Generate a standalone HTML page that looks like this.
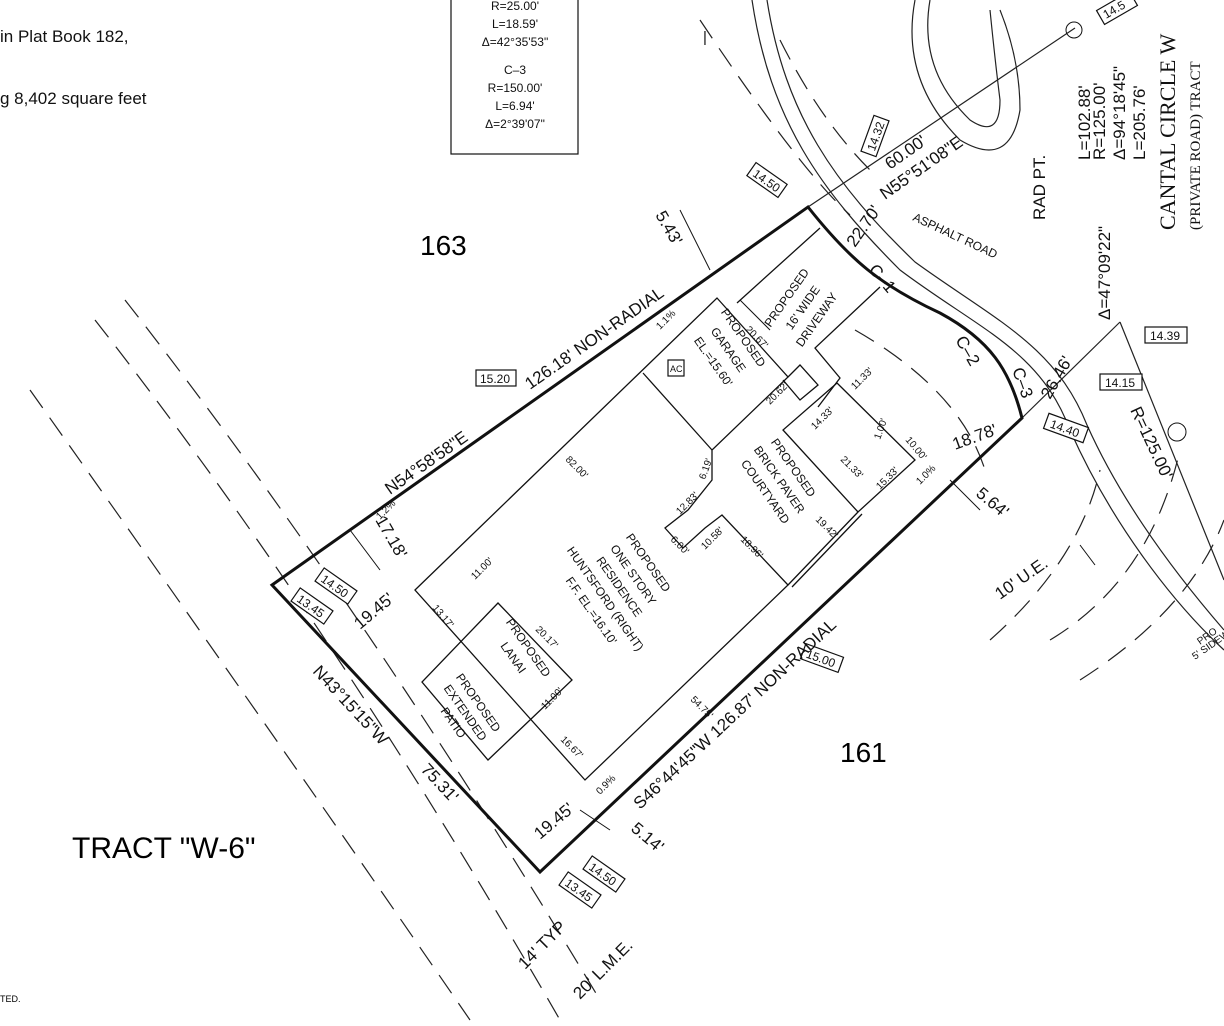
<!DOCTYPE html>
<html><head><meta charset="utf-8"><style>
html,body{margin:0;padding:0;background:#fff;}
svg{display:block;font-family:"Liberation Sans",sans-serif;}
.t{font-size:15px;fill:#111;}
.s{font-size:12px;fill:#111;}
.box{fill:#fff;stroke:#111;stroke-width:1.2;}
</style></head><body>
<svg width="1224" height="1026" viewBox="0 0 1224 1026" xmlns="http://www.w3.org/2000/svg">
<rect width="1224" height="1026" fill="#fff"/>
<text x="0" y="42" class="t" style="font-size:17px">in Plat Book 182,</text>
<text x="0" y="104" class="t" style="font-size:17px">g 8,402 square feet</text>
<text x="0" y="1002" style="font-size:9px">TED.</text>
<rect x="451" y="-2" width="127" height="156" fill="none" stroke="#111" stroke-width="1.2"/>
<g class="s" text-anchor="middle">
<text x="515" y="10">R=25.00'</text><text x="515" y="28">L=18.59'</text><text x="515" y="46">Δ=42°35'53"</text>
<text x="515" y="74">C–3</text><text x="515" y="92">R=150.00'</text><text x="515" y="110">L=6.94'</text><text x="515" y="128">Δ=2°39'07"</text>
</g>
<text x="703" y="42" class="t">|</text>
<g fill="none" stroke="#222" stroke-width="1.2" stroke-dasharray="22,12">
<path d="M95,320 Q330,620 560,1020"/>
<path d="M125,300 Q360,600 600,1000"/>
<path d="M30,390 Q250,700 470,1020"/>
<path d="M700,20 Q800,170 850,215"/>
<path d="M780,40 Q820,120 870,170"/>
<path d="M855,330 Q960,390 985,470"/>
<path d="M990,640 Q1080,560 1100,470"/>
<path d="M1050,640 Q1150,580 1180,450"/>
<path d="M1080,680 Q1190,610 1224,520"/>
</g>
<g fill="none" stroke="#222" stroke-width="1.2">
<path d="M752,0 C770,120 820,190 900,270 C980,330 1040,350 1070,430 C1110,520 1170,600 1224,650"/>
<path d="M767,0 C785,115 835,185 915,262 C995,320 1055,345 1087,425 C1125,510 1185,585 1224,630"/>
<path d="M915,0 Q900,80 960,140 Q1010,170 1020,110 Q1020,60 1000,10"/>
<path d="M930,0 Q918,70 970,120 Q1000,140 1000,100 Q995,60 990,10"/>
<line x1="808" y1="207" x2="1075" y2="28"/>
<line x1="1022" y1="418" x2="1120" y2="322"/>
<line x1="1120" y1="322" x2="1224" y2="580"/>
</g>
<path d="M272,585 L808,207 C850,260 880,285 940,313 C990,340 1010,370 1022,418 L540,872 Z" fill="none" stroke="#111" stroke-width="3"/>
<g fill="none" stroke="#111" stroke-width="1.3">
<path d="M415,590 L717,298 L788,377 L712,450 L712,480 L688,510 L665,528 L683,548 L705,528 L722,515 L788,585 L585,780 Z"/>
<path d="M643,373 L712,450"/>
<path d="M498,603 L572,680 L488,760 L422,682 Z"/>
<path d="M837,383 L915,460 L858,512 L783,430 Z"/>
<path d="M858,512 L788,585 M862,514 L792,587"/>
<path d="M737,303 L820,228"/>
<path d="M880,287 L815,348 L840,378 L818,407"/>
<path d="M788,377 L800,365 L818,385 L800,400 L783,380"/>
</g>
<g stroke="#111" stroke-width="1">
<line x1="770" y1="330" x2="740" y2="300"/>
<line x1="350" y1="530" x2="380" y2="570"/>
<line x1="680" y1="210" x2="710" y2="270"/>
<line x1="950" y1="480" x2="980" y2="510"/>
<line x1="580" y1="810" x2="610" y2="830"/>
<line x1="1080" y1="545" x2="1095" y2="565"/>
</g>
<g class="s">
<rect x="748" y="172" width="38" height="16" class="box" transform="rotate(35 767 180)"/><text x="752" y="185" transform="rotate(35 767 180)">14.50</text>
<rect x="856" y="128" width="38" height="16" class="box" transform="rotate(-70 875 136)"/><text x="860" y="141" transform="rotate(-70 875 136)">14.32</text>
<rect x="1145" y="327" width="42" height="16" class="box"/><text x="1150" y="340">14.39</text>
<rect x="1100" y="374" width="42" height="16" class="box"/><text x="1105" y="387">14.15</text>
<rect x="1045" y="420" width="42" height="16" class="box" transform="rotate(20 1066 428)"/><text x="1050" y="433" transform="rotate(20 1066 428)">14.40</text>
<rect x="476" y="370" width="40" height="16" class="box"/><text x="480" y="383">15.20</text>
<rect x="316" y="578" width="40" height="16" class="box" transform="rotate(35 336 586)"/><text x="320" y="591" transform="rotate(35 336 586)">14.50</text>
<rect x="292" y="598" width="40" height="16" class="box" transform="rotate(35 312 606)"/><text x="296" y="611" transform="rotate(35 312 606)">13.45</text>
<rect x="802" y="650" width="40" height="16" class="box" transform="rotate(20 822 658)"/><text x="806" y="663" transform="rotate(20 822 658)">15.00</text>
<rect x="584" y="866" width="40" height="16" class="box" transform="rotate(35 604 874)"/><text x="588" y="879" transform="rotate(35 604 874)">14.50</text>
<rect x="560" y="882" width="40" height="16" class="box" transform="rotate(35 580 890)"/><text x="564" y="895" transform="rotate(35 580 890)">13.45</text>
<rect x="1098" y="0" width="38" height="16" class="box" transform="rotate(-30 1117 8)"/><text x="1102" y="12" transform="rotate(-30 1117 8)">14.5</text>
<rect x="668" y="360" width="16" height="16" class="box"/><text x="670" y="372" style="font-size:9px">AC</text>
</g>
<text x="420" y="255" style="font-size:28px">163</text>
<text x="840" y="762" style="font-size:28px">161</text>
<text x="72" y="858" style="font-size:30px">TRACT "W-6"</text>
<g class="t" style="font-size:17px">
<text transform="translate(390,495) rotate(-35)">N54°58'58"E</text>
<text transform="translate(530,390) rotate(-35)">126.18' NON-RADIAL</text>
<text transform="translate(640,810) rotate(-43)">S46°44'45"W  126.87'  NON-RADIAL</text>
<text transform="translate(312,672) rotate(47)">N43°15'15"W</text>
<text transform="translate(420,770) rotate(47)">75.31'</text>
<text transform="translate(885,200) rotate(-35)">N55°51'08"E</text>
<text transform="translate(890,170) rotate(-35)">60.00'</text>
<text transform="translate(855,248) rotate(-55)">22.70'</text>
<text transform="translate(868,270) rotate(50)">C–1</text>
<text transform="translate(955,340) rotate(60)">C–2</text>
<text transform="translate(1012,370) rotate(70)">C–3</text>
<text transform="translate(1050,400) rotate(-60)">26.46'</text>
<text transform="translate(1130,410) rotate(65)">R=125.00'</text>
<text transform="translate(1000,600) rotate(-35)">10' U.E.</text>
<text transform="translate(955,450) rotate(-20)">18.78'</text>
<text transform="translate(975,495) rotate(40)">5.64'</text>
<text transform="translate(375,520) rotate(60)">17.18'</text>
<text transform="translate(360,630) rotate(-40)">19.45'</text>
<text transform="translate(540,840) rotate(-40)">19.45'</text>
<text transform="translate(630,830) rotate(40)">5.14'</text>
<text transform="translate(655,215) rotate(60)">5.43'</text>
<text transform="translate(525,970) rotate(-45)">14' TYP</text>
<text transform="translate(580,1000) rotate(-45)">20' L.M.E.</text>
<text x="912" y="220" transform="rotate(25 912 220)" style="font-size:12px">ASPHALT ROAD</text>
<text transform="translate(1045,220) rotate(-90)">RAD PT.</text>
<text transform="translate(1090,160) rotate(-90)">L=102.88'</text>
<text transform="translate(1110,320) rotate(-90)">Δ=47°09'22"</text>
<text transform="translate(1105,160) rotate(-90)">R=125.00'</text>
<text transform="translate(1125,160) rotate(-90)">Δ=94°18'45"</text>
<text transform="translate(1145,160) rotate(-90)">L=205.76'</text>
<text transform="translate(1175,230) rotate(-90)" style="font-size:22px;font-family:'Liberation Serif',serif">CANTAL CIRCLE W</text>
<text transform="translate(1200,230) rotate(-90)" style="font-size:15px;font-family:'Liberation Serif',serif">(PRIVATE ROAD) TRACT</text>
</g>
<g class="s" text-anchor="middle">
<text transform="translate(790,300) rotate(-55)">PROPOSED</text>
<text transform="translate(806,310) rotate(-55)">16' WIDE</text>
<text transform="translate(820,322) rotate(-55)">DRIVEWAY</text>
<text transform="translate(740,340) rotate(55)">PROPOSED</text>
<text transform="translate(725,352) rotate(55)">GARAGE</text>
<text transform="translate(710,364) rotate(55)">EL.=15.60'</text>
<text transform="translate(790,470) rotate(55)">PROPOSED</text>
<text transform="translate(776,482) rotate(55)">BRICK PAVER</text>
<text transform="translate(762,494) rotate(55)">COURTYARD</text>
<text transform="translate(645,565) rotate(55)">PROPOSED</text>
<text transform="translate(630,577) rotate(55)">ONE STORY</text>
<text transform="translate(616,589) rotate(55)">RESIDENCE</text>
<text transform="translate(602,601) rotate(55)">HUNTSFORD (RIGHT)</text>
<text transform="translate(588,613) rotate(55)">F.F. EL.=16.10'</text>
<text transform="translate(525,650) rotate(55)">PROPOSED</text>
<text transform="translate(510,660) rotate(55)">LANAI</text>
<text transform="translate(475,705) rotate(55)">PROPOSED</text>
<text transform="translate(462,715) rotate(55)">EXTENDED</text>
<text transform="translate(450,725) rotate(55)">PATIO</text>
</g>
<g style="font-size:10px" fill="#111">
<text transform="translate(745,330) rotate(45)">20.67'</text>
<text transform="translate(770,405) rotate(-45)">20.62'</text>
<text transform="translate(565,460) rotate(45)">82.00'</text>
<text transform="translate(705,480) rotate(-70)">6.19'</text>
<text transform="translate(680,515) rotate(-45)">12.83'</text>
<text transform="translate(670,540) rotate(45)">6.00'</text>
<text transform="translate(705,550) rotate(-45)">10.58'</text>
<text transform="translate(740,540) rotate(45)">18.96'</text>
<text transform="translate(815,430) rotate(-45)">14.33'</text>
<text transform="translate(855,390) rotate(-45)">11.33'</text>
<text transform="translate(840,460) rotate(45)">21.33'</text>
<text transform="translate(880,440) rotate(-70)">1.00'</text>
<text transform="translate(905,440) rotate(50)">10.00'</text>
<text transform="translate(880,490) rotate(-45)">15.33'</text>
<text transform="translate(815,520) rotate(45)">19.42'</text>
<text transform="translate(432,608) rotate(50)">13.17'</text>
<text transform="translate(475,580) rotate(-45)">11.00'</text>
<text transform="translate(535,630) rotate(45)">20.17'</text>
<text transform="translate(545,710) rotate(-45)">11.00'</text>
<text transform="translate(560,740) rotate(45)">16.67'</text>
<text transform="translate(690,700) rotate(45)">54.75'</text>
<text transform="translate(660,330) rotate(-45)">1.1%</text>
<text transform="translate(380,520) rotate(-45)">1.2%</text>
<text transform="translate(600,795) rotate(-45)">0.9%</text>
<text transform="translate(920,485) rotate(-45)">1.0%</text>
<text transform="translate(1195,660) rotate(-35)">5' SIDEW</text>
<text transform="translate(1200,645) rotate(-35)">PRO</text>
</g>
<circle cx="1074" cy="30" r="8" fill="none" stroke="#111"/>
<circle cx="1177" cy="432" r="9" fill="none" stroke="#111"/>
</svg>
</body></html>
